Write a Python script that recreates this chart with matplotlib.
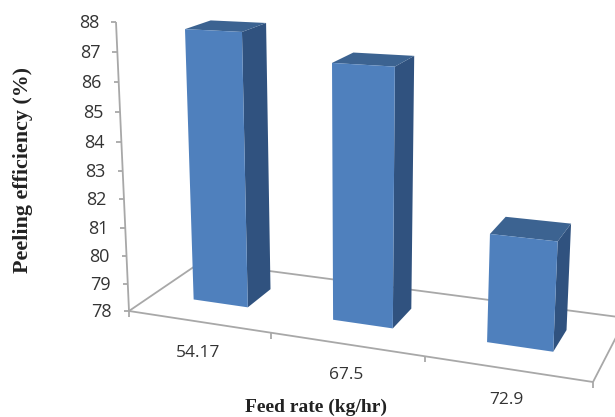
import numpy as np
import matplotlib
matplotlib.use("Agg")
import matplotlib.pyplot as plt
from matplotlib.patches import Polygon

categories = ["54.17", "67.5", "72.9"]
efficiency = [87.55, 86.7, 81.6]
y_ticks = [78, 79, 80, 81, 82, 83, 84, 85, 86, 87, 88]

y_min = 78
y_max = 88

# floor corners of the 3D box on screen (u along categories, d into the page)
floor_uv = [(0, 0), (3, 0), (0, 1), (3, 1)]
floor_px = [(129, 311), (593, 382), (201, 262), (626, 318)]
top_left_px = (116, 22)
vertical_vp = np.array([354.0, 5310.0, 1.0])

tick_u = [0, 1.02, 2.02, 3]
bar_half = 0.2
d0, d1 = 0.33, 0.68

FRONT = "#4F80BD"
SIDE = "#30527F"
TOP = "#3C6391"
LINE = "#A8A8A8"
TEXT = "#333333"


def fit_camera():
    rows = []
    for (u, d), (x, y) in zip(floor_uv, floor_px):
        rows.append([u, d, 1, 0, 0, 0, -x * u, -x * d, -x])
        rows.append([0, 0, 0, u, d, 1, -y * u, -y * d, -y])
    h = np.linalg.svd(np.array(rows, dtype=float))[2][-1].reshape(3, 3)
    # scale of the vertical direction, from the top of the value axis
    p4 = h[:, 2]
    span = y_max - y_min
    s = (top_left_px[1] * p4[2] - p4[1]) / (span * (vertical_vp[1] - top_left_px[1] * vertical_vp[2]))
    return h, s * vertical_vp


H, P3 = fit_camera()


def project(u, d, v):
    p = H @ np.array([u, d, 1.0]) + (v - y_min) * P3
    return p[0] / p[2], p[1] / p[2]


fig = plt.figure(figsize=(6.15, 4.17), dpi=100)
ax = fig.add_axes([0, 0, 1, 1])
ax.set_xlim(0, 615)
ax.set_ylim(417, 0)
ax.axis("off")


def line(a, b):
    ax.plot([a[0], b[0]], [a[1], b[1]], color=LINE, lw=1.3, solid_capstyle="butt", zorder=1)


# floor outline
line(project(0, 0, y_min), project(3, 0, y_min))
line(project(0, 0, y_min), project(0, 1, y_min))
line(project(0, 1, y_min), project(3, 1, y_min))
line(project(3, 0, y_min), project(3, 1, y_min))

# value axis
line(project(0, 0, y_min), project(0, 0, y_max))
for t in y_ticks:
    x, y = project(0, 0, t)
    line((x - 5, y), (x, y))
    ax.text(x - 17, y + 1, str(t), ha="right", va="center", fontsize=13,
            family="Open Sans", color=TEXT)

# category axis
for u in tick_u:
    x, y = project(u, 0, y_min)
    line((x, y), (x, y + 6))
for i, c in enumerate(categories):
    x, y = project((tick_u[i] + tick_u[i + 1]) / 2, 0, y_min)
    ax.text(x, y + 31, c, ha="center", va="center", fontsize=12.5,
            family="Open Sans", color=TEXT)

# bars
for i, val in enumerate(efficiency):
    u0, u1 = i + 0.5 - bar_half, i + 0.5 + bar_half
    side = [project(u1, d0, y_min), project(u1, d1, y_min), project(u1, d1, val), project(u1, d0, val)]
    top = [project(u0, d0, val), project(u1, d0, val), project(u1, d1, val), project(u0, d1, val)]
    front = [project(u0, d0, y_min), project(u1, d0, y_min), project(u1, d0, val), project(u0, d0, val)]
    ax.add_patch(Polygon(side, closed=True, fc=SIDE, ec="none", zorder=3))
    ax.add_patch(Polygon(top, closed=True, fc=TOP, ec="none", zorder=3))
    ax.add_patch(Polygon(front, closed=True, fc=FRONT, ec="none", zorder=4))

ax.text(23, 170, "Peeling efficiency (%)", rotation=90, ha="center", va="center",
        fontsize=15.8, fontweight="bold", family="Liberation Serif", color="#222222")
ax.text(316, 407, "Feed rate (kg/hr)", ha="center", va="center",
        fontsize=14, fontweight="bold", family="Liberation Serif", color="#222222")

fig.savefig("out.png", dpi=100)
